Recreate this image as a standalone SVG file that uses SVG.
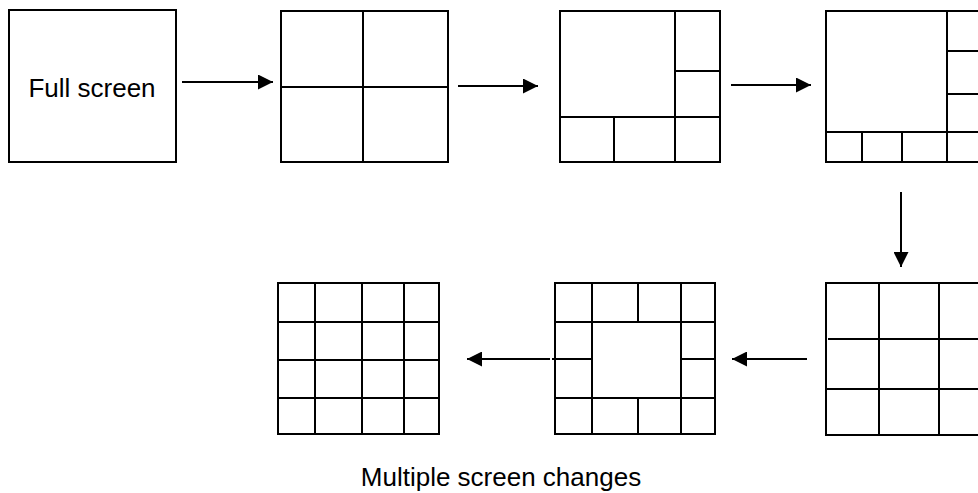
<svg xmlns="http://www.w3.org/2000/svg" width="978" height="493" viewBox="0 0 978 493">
<defs>
<style>
.b{fill:#fff;stroke:#000;stroke-width:2}
.l{stroke:#000;stroke-width:2;fill:none}
.c{stroke:#000;stroke-width:2;fill:none}
.t{font-family:"Liberation Sans",Arial,sans-serif;font-size:26px;fill:#000}
</style>
<marker id="ah" markerWidth="16" markerHeight="15" refX="15" refY="7.5" orient="auto" markerUnits="userSpaceOnUse">
<path d="M0,0 L15,7.5 L0,15 Z" fill="#000"/>
</marker>
</defs>
<rect width="978" height="493" fill="#fff"/>
<g id="n1">
<rect class="b" x="9" y="10" width="167" height="152"/>
<text class="t" x="92" y="97" text-anchor="middle">Full screen</text>
</g>
<g id="n2">
<rect class="b" x="281" y="11" width="167" height="151"/>
<path class="l" d="M363,11 V162 M281,87 H448"/>
</g>
<g id="n3">
<rect class="b" x="560" y="11" width="160" height="151"/>
<path class="l" d="M675,11 V162 M560,117 H720 M675,71 H720 M614,117 V162"/>
</g>
<g id="n4">
<rect class="b" x="826" y="11" width="170" height="151"/>
<path class="l" d="M947,11 V162 M826,132 H996 M947,51 H996 M947,94 H996 M862,132 V162 M902,132 V162"/>
</g>
<g id="n5">
<rect class="b" x="826" y="283" width="170" height="152"/>
<path class="l" d="M879,283 V435 M939,283 V435 M828,339 H996 M826,389 H996"/>
</g>
<g id="n6">
<rect class="b" x="555" y="283" width="160" height="151"/>
<path class="l" d="M555,322 H715 M555,398 H715 M592,283 V434 M681,283 V434 M638,283 V322 M638,398 V434 M552,359 H592 M681,359 H715"/>
</g>
<g id="n7">
<rect class="b" x="278" y="283" width="161" height="151"/>
<path class="l" d="M315,283 V434 M362,283 V434 M404,283 V434 M278,322 H439 M277,360 H439 M278,398 H439"/>
</g>
<g id="connectors">
<line class="c" x1="182" y1="82" x2="273" y2="82" marker-end="url(#ah)"/>
<line class="c" x1="458" y1="86" x2="538" y2="86" marker-end="url(#ah)"/>
<line class="c" x1="731" y1="85" x2="811" y2="85" marker-end="url(#ah)"/>
<line class="c" x1="901" y1="192" x2="901" y2="267" marker-end="url(#ah)"/>
<line class="c" x1="807" y1="359" x2="732" y2="359" marker-end="url(#ah)"/>
<line class="c" x1="550" y1="359" x2="467" y2="359" marker-end="url(#ah)"/>
</g>
<text class="t" x="501" y="486" text-anchor="middle">Multiple screen changes</text>
</svg>
